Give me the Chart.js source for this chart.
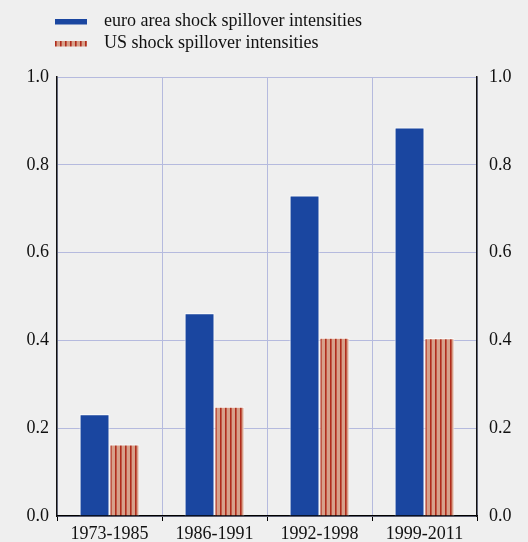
<!DOCTYPE html>
<html>
<head>
<meta charset="utf-8">
<script src="https://cdn.jsdelivr.net/npm/chart.js@4.4.1/dist/chart.umd.min.js"></script>
<style>
  html, body { margin: 0; padding: 0; background: #efefef; }
  #wrap { width: 528px; height: 542px; position: relative; }
</style>
</head>
<body>
<div id="wrap"><canvas id="c" width="528" height="542"></canvas></div>
<script>
const categories = ["1973-1985", "1986-1991", "1992-1998", "1999-2011"];
const euroArea = [0.232, 0.462, 0.730, 0.885];
const usShock = [0.163, 0.249, 0.406, 0.405];
const seriesLabels = ["euro area shock spillover intensities", "US shock spillover intensities"];
const yTicks = [0, 0.2, 0.4, 0.6, 0.8, 1.0];

const FONT = "'Liberation Serif', 'Times New Roman', serif";
const BLUE = "#1a46a0";
const SALMON = "#d7a08a";
const STRIPE = "#b02c1c";
const GRID = "#b5bade";

function makeStripes() {
  const p = document.createElement("canvas");
  p.width = 5; p.height = 10;
  const g = p.getContext("2d");
  g.fillStyle = SALMON; g.fillRect(0, 0, 5, 10);
  g.fillStyle = STRIPE; g.fillRect(0, 0, 1.6, 10);
  return document.getElementById("c").getContext("2d").createPattern(p, "repeat");
}
const stripes = makeStripes();

const legendPlugin = {
  id: "customLegend",
  afterDraw(chart) {
    const ctx = chart.ctx;
    ctx.save();
    const rows = [21.5, 43.5];
    chart.data.datasets.forEach((ds, i) => {
      const y = rows[i];
      ctx.fillStyle = ds.backgroundColor;
      ctx.fillRect(55, y - 2.5, 32, 5.5);
      ctx.fillStyle = "#111";
      ctx.font = "18px " + FONT;
      ctx.textBaseline = "middle";
      ctx.textAlign = "left";
      ctx.fillText(ds.label, 104, y);
    });
    ctx.restore();
  }
};

const bgPlugin = {
  id: "bg",
  beforeDraw(chart) {
    const ctx = chart.ctx;
    ctx.save();
    ctx.fillStyle = "#efefef";
    ctx.fillRect(0, 0, chart.width, chart.height);
    ctx.restore();
  }
};

new Chart(document.getElementById("c"), {
  type: "bar",
  data: {
    labels: categories,
    datasets: [
      { label: seriesLabels[0], data: euroArea, backgroundColor: BLUE, borderColor: "#ffffff", borderWidth: 1, yAxisID: "y" },
      { label: seriesLabels[1], data: usShock, backgroundColor: stripes, borderColor: "#ffffff", borderWidth: 1, yAxisID: "y" }
    ]
  },
  options: {
    responsive: false,
    animation: false,
    devicePixelRatio: 1,
    layout: { padding: { top: 77, left: 0, right: 0, bottom: 0 } },
    datasets: { bar: { categoryPercentage: 0.57, barPercentage: 1.0 } },
    plugins: { legend: { display: false }, tooltip: { enabled: false } },
    scales: {
      x: {
        offset: true,
        grid: { offset: true, color: GRID, lineWidth: 1, tickColor: "#000", tickLength: 5, drawTicks: true },
        border: { display: true, color: "#000", width: 1.5 },
        ticks: { color: "#111", font: { family: FONT, size: 18 }, padding: 2 },
        afterFit(s) { s.height = 26; }
      },
      y: {
        position: "left",
        min: 0, max: 1,
        afterBuildTicks(s) { s.ticks = yTicks.map(v => ({ value: v })); },
        grid: { color: GRID, lineWidth: 1, drawTicks: false },
        border: { display: true, color: "#111", width: 1.5 },
        ticks: { color: "#111", font: { family: FONT, size: 18 }, padding: 8, callback: v => Number(v).toFixed(1) },
        afterFit(s) { s.width = 57; }
      },
      y2: {
        position: "right",
        min: 0, max: 1,
        afterBuildTicks(s) { s.ticks = yTicks.map(v => ({ value: v })); },
        grid: { display: false, drawTicks: false },
        border: { display: true, color: "#111", width: 1.5 },
        ticks: { color: "#111", font: { family: FONT, size: 18 }, padding: 12, callback: v => Number(v).toFixed(1) },
        afterFit(s) { s.width = 51; }
      }
    }
  },
  plugins: [bgPlugin, legendPlugin]
});
</script>
</body>
</html>
